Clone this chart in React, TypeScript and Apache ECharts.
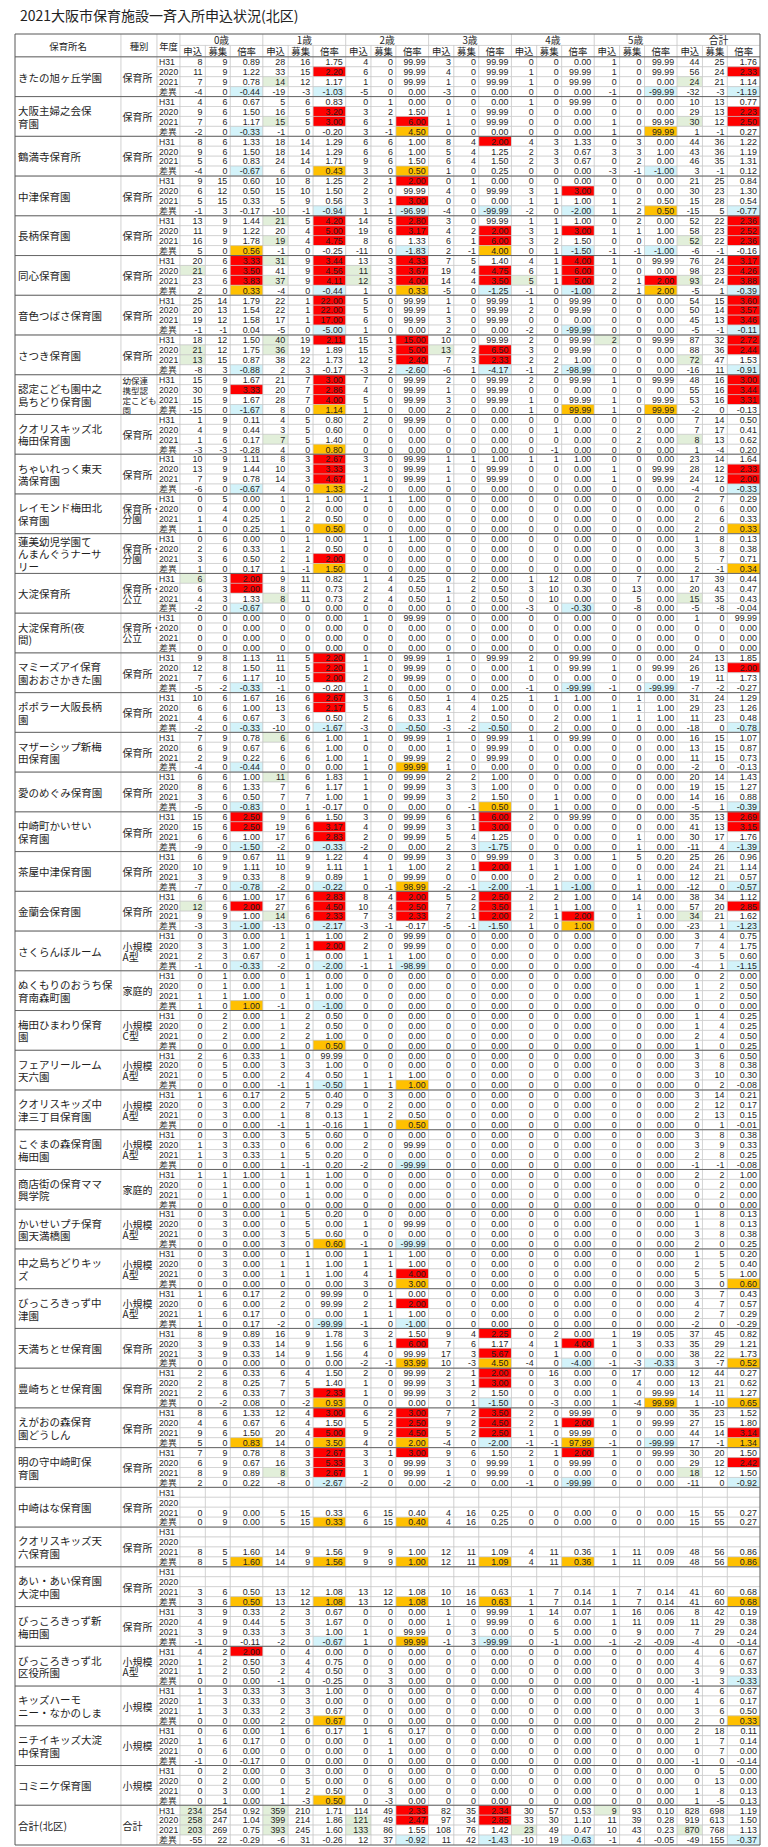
import React, { useEffect, useRef } from "react";
import * as echarts from "echarts";

const TITLE = "2021大阪市保育施設一斉入所申込状況(北区)";
const fixedHeaders = ["保育所名", "種別", "年度"];
const ageLabels = ["0歳", "1歳", "2歳", "3歳", "4歳", "5歳", "合計"];
const subLabels = ["申込", "募集", "倍率"];
const yearLabels = ["H31", "2020", "2021", "差異"];

const facilityNames = [
  "きたの旭ヶ丘学園",
  "大阪主婦之会保\n育園",
  "鶴満寺保育所",
  "中津保育園",
  "長柄保育園",
  "同心保育園",
  "音色つばさ保育園",
  "さつき保育園",
  "認定こども園中之\n島ちどり保育園",
  "クオリスキッズ北\n梅田保育園",
  "ちゃいれっく東天\n満保育園",
  "レイモンド梅田北\n保育園",
  "蓮美幼児学園て\nんまんぐうナーサ\nリー",
  "大淀保育所",
  "大淀保育所(夜\n間)",
  "マミーズアイ保育\n園おおさかきた園",
  "ポポラー大阪長柄\n園",
  "マザーシップ新梅\n田保育園",
  "愛のめぐみ保育園",
  "中崎町かいせい\n保育園",
  "茶屋中津保育園",
  "金蘭会保育園",
  "さくらんぼルーム",
  "ぬくもりのおうち保\n育南森町園",
  "梅田ひまわり保育\n園",
  "フェアリールーム\n天六園",
  "クオリスキッズ中\n津三丁目保育園",
  "こぐまの森保育園\n梅田園",
  "商店街の保育ママ\n興学院",
  "かいせいプチ保育\n園天満橋園",
  "中之島ちどりキッ\nズ",
  "びっころきっず中\n津園",
  "天満ちとせ保育園",
  "豊崎ちとせ保育園",
  "えがおの森保育\n園どうしん",
  "明の守中崎町保\n育園",
  "中崎はな保育園",
  "クオリスキッズ天\n六保育園",
  "あい・あい保育園\n大淀中園",
  "びっころきっず新\n梅田園",
  "びっころきっず北\n区役所園",
  "キッズハーモ\nニー・なかのしま",
  "ニチイキッズ大淀\n中保育園",
  "コミニケ保育園",
  "合計(北区)",
];

const facilityTypes = [
  "保育所", "保育所", "保育所", "保育所", "保育所", "保育所", "保育所", "保育所",
  "幼保連\n携型認\n定こども\n園",
  "保育所", "保育所",
  "保育所・\n分園", "保育所・\n分園",
  "保育所・\n公立", "保育所・\n公立",
  "保育所", "保育所", "保育所", "保育所", "保育所", "保育所", "保育所",
  "小規模\nA型", "家庭的", "小規模\nC型", "小規模\nA型", "小規模\nA型", "小規模\nA型",
  "家庭的", "小規模\nA型", "小規模\nA型", "小規模\nA型",
  "保育所", "保育所", "保育所", "保育所", "保育所", "保育所", "保育所", "保育所",
  "小規模\nA型", "小規模", "小規模", "小規模", "合計",
];

// 21 values per row: (申込 募集 倍率) x (0歳..5歳, 合計)
const rowValues = [
  // きたの旭ヶ丘学園
  "8 9 0.89 28 16 1.75 4 0 99.99 3 0 99.99 0 0 0.00 1 0 99.99 44 25 1.76",
  "11 9 1.22 33 15 2.20 6 0 99.99 4 0 99.99 1 0 99.99 1 0 99.99 56 24 2.33",
  "7 9 0.78 14 12 1.17 1 0 99.99 1 0 99.99 1 0 99.99 0 0 0.00 24 21 1.14",
  "-4 0 -0.44 -19 -3 -1.03 -5 0 0.00 -3 0 0.00 0 0 0.00 -1 0 -99.99 -32 -3 -1.19",
  // 大阪主婦之会保育園
  "4 6 0.67 5 6 0.83 0 1 0.00 0 0 0.00 1 0 99.99 0 0 0.00 10 13 0.77",
  "9 6 1.50 16 5 3.20 3 2 1.50 1 0 99.99 0 0 0.00 0 0 0.00 29 13 2.23",
  "7 6 1.17 15 5 3.00 6 1 6.00 1 0 99.99 0 0 0.00 1 0 99.99 30 12 2.50",
  "-2 0 -0.33 -1 0 -0.20 3 -1 4.50 0 0 0.00 0 0 0.00 1 0 99.99 1 -1 0.27",
  // 鶴満寺保育所
  "8 6 1.33 18 14 1.29 6 6 1.00 8 4 2.00 4 3 1.33 0 3 0.00 44 36 1.22",
  "9 6 1.50 18 14 1.29 6 6 1.00 5 4 1.25 2 3 0.67 3 3 1.00 43 36 1.19",
  "5 6 0.83 24 14 1.71 9 6 1.50 6 4 1.50 2 3 0.67 0 2 0.00 46 35 1.31",
  "-4 0 -0.67 6 0 0.43 3 0 0.50 1 0 0.25 0 0 0.00 -3 -1 -1.00 3 -1 0.12",
  // 中津保育園
  "9 15 0.60 10 8 1.25 2 1 2.00 0 1 0.00 0 0 0.00 0 0 0.00 21 25 0.84",
  "6 12 0.50 15 10 1.50 2 0 99.99 4 0 99.99 3 1 3.00 0 0 0.00 30 23 1.30",
  "5 15 0.33 5 9 0.56 3 1 3.00 0 0 0.00 1 1 1.00 1 2 0.50 15 28 0.54",
  "-1 3 -0.17 -10 -1 -0.94 1 1 -96.99 -4 0 -99.99 -2 0 -2.00 1 2 0.50 -15 5 -0.77",
  // 長柄保育園
  "13 9 1.44 21 5 4.20 14 5 2.80 3 0 99.99 1 1 1.00 0 2 0.00 52 22 2.36",
  "11 9 1.22 20 4 5.00 19 6 3.17 4 2 2.00 3 1 3.00 1 1 1.00 58 23 2.52",
  "16 9 1.78 19 4 4.75 8 6 1.33 6 1 6.00 3 2 1.50 0 0 0.00 52 22 2.36",
  "5 0 0.56 -1 0 -0.25 -11 0 -1.83 2 -1 4.00 0 1 -1.50 -1 -1 -1.00 -6 -1 -0.16",
  // 同心保育園
  "20 6 3.33 31 9 3.44 13 3 4.33 7 5 1.40 4 1 4.00 1 0 99.99 76 24 3.17",
  "21 6 3.50 41 9 4.56 11 3 3.67 19 4 4.75 6 1 6.00 0 0 0.00 98 23 4.26",
  "23 6 3.83 37 9 4.11 12 3 4.00 14 4 3.50 5 1 5.00 2 1 2.00 93 24 3.88",
  "2 0 0.33 -4 0 -0.44 1 0 0.33 -5 0 -1.25 -1 0 -1.00 2 1 2.00 -5 1 -0.39",
  // 音色つばさ保育園
  "25 14 1.79 22 1 22.00 5 0 99.99 1 0 99.99 1 0 99.99 0 0 0.00 54 15 3.60",
  "20 13 1.54 22 1 22.00 5 0 99.99 1 0 99.99 2 0 99.99 0 0 0.00 50 14 3.57",
  "19 12 1.58 17 1 17.00 6 0 99.99 3 0 99.99 0 0 0.00 0 0 0.00 45 13 3.46",
  "-1 -1 0.04 -5 0 -5.00 1 0 0.00 2 0 0.00 -2 0 -99.99 0 0 0.00 -5 -1 -0.11",
  // さつき保育園
  "18 12 1.50 40 19 2.11 15 1 15.00 10 0 99.99 2 0 99.99 2 0 99.99 87 32 2.72",
  "21 12 1.75 36 19 1.89 15 3 5.00 13 2 6.50 3 0 99.99 0 0 0.00 88 36 2.44",
  "13 15 0.87 38 22 1.73 12 5 2.40 7 3 2.33 2 2 1.00 0 0 0.00 72 47 1.53",
  "-8 3 -0.88 2 3 -0.17 -3 2 -2.60 -6 1 -4.17 -1 2 -98.99 0 0 0.00 -16 11 -0.91",
  // 認定こども園中之島ちどり保育園
  "15 9 1.67 21 7 3.00 7 0 99.99 2 0 99.99 2 0 99.99 1 0 99.99 48 16 3.00",
  "30 9 3.33 20 7 2.86 4 0 99.99 1 0 99.99 0 0 0.00 0 0 0.00 55 16 3.44",
  "15 9 1.67 28 7 4.00 5 0 99.99 3 0 99.99 1 0 99.99 1 0 99.99 53 16 3.31",
  "-15 0 -1.67 8 0 1.14 1 0 0.00 2 0 0.00 1 0 99.99 1 0 99.99 -2 0 -0.13",
  // クオリスキッズ北梅田保育園
  "1 9 0.11 4 5 0.80 2 0 99.99 0 0 0.00 0 0 0.00 0 0 0.00 7 14 0.50",
  "4 9 0.44 3 5 0.60 0 0 0.00 0 0 0.00 0 1 0.00 0 2 0.00 7 17 0.41",
  "1 6 0.17 7 5 1.40 0 0 0.00 0 0 0.00 0 0 0.00 0 2 0.00 8 13 0.62",
  "-3 -3 -0.28 4 0 0.80 0 0 0.00 0 0 0.00 0 -1 0.00 0 0 0.00 1 -4 0.20",
  // ちゃいれっく東天満保育園
  "10 9 1.11 8 3 2.67 3 0 99.99 1 1 1.00 1 1 1.00 0 0 0.00 23 14 1.64",
  "13 9 1.44 10 3 3.33 3 0 99.99 1 0 99.99 0 0 0.00 1 0 99.99 28 12 2.33",
  "7 9 0.78 14 3 4.67 1 0 99.99 1 0 99.99 0 0 0.00 1 0 99.99 24 12 2.00",
  "-6 0 -0.67 4 0 1.33 -2 0 0.00 0 0 0.00 0 0 0.00 0 0 0.00 -4 0 -0.33",
  // レイモンド梅田北保育園
  "0 5 0.00 1 1 1.00 1 1 1.00 0 0 0.00 0 0 0.00 0 0 0.00 2 7 0.29",
  "0 4 0.00 0 2 0.00 0 0 0.00 0 0 0.00 0 0 0.00 0 0 0.00 0 6 0.00",
  "1 4 0.25 1 2 0.50 0 0 0.00 0 0 0.00 0 0 0.00 0 0 0.00 2 6 0.33",
  "1 0 0.25 1 0 0.50 0 0 0.00 0 0 0.00 0 0 0.00 0 0 0.00 2 0 0.33",
  // 蓮美幼児学園てんまんぐうナーサリー
  "0 6 0.00 0 1 0.00 1 1 1.00 0 0 0.00 0 0 0.00 0 0 0.00 1 8 0.13",
  "2 6 0.33 1 2 0.50 0 0 0.00 0 0 0.00 0 0 0.00 0 0 0.00 3 8 0.38",
  "3 6 0.50 2 1 2.00 0 0 0.00 0 0 0.00 0 0 0.00 0 0 0.00 5 7 0.71",
  "1 0 0.17 1 -1 1.50 0 0 0.00 0 0 0.00 0 0 0.00 0 0 0.00 2 -1 0.34",
  // 大淀保育所
  "6 3 2.00 9 11 0.82 1 4 0.25 0 2 0.00 1 12 0.08 0 7 0.00 17 39 0.44",
  "6 3 2.00 8 11 0.73 2 4 0.50 1 2 0.50 3 10 0.30 0 13 0.00 20 43 0.47",
  "4 3 1.33 8 11 0.73 2 4 0.50 1 2 0.50 0 10 0.00 0 5 0.00 15 35 0.43",
  "-2 0 -0.67 0 0 0.00 0 0 0.00 0 0 0.00 -3 0 -0.30 0 -8 0.00 -5 -8 -0.04",
  // 大淀保育所(夜間)
  "0 0 0.00 0 0 0.00 1 0 99.99 0 0 0.00 0 0 0.00 0 0 0.00 1 0 99.99",
  "0 0 0.00 0 0 0.00 0 0 0.00 0 0 0.00 0 0 0.00 0 0 0.00 0 0 0.00",
  "0 0 0.00 0 0 0.00 0 0 0.00 0 0 0.00 0 0 0.00 0 0 0.00 0 0 0.00",
  "0 0 0.00 0 0 0.00 0 0 0.00 0 0 0.00 0 0 0.00 0 0 0.00 0 0 0.00",
  // マミーズアイ保育園おおさかきた園
  "9 8 1.13 11 5 2.20 1 0 99.99 1 0 99.99 2 0 99.99 0 0 0.00 24 13 1.85",
  "12 8 1.50 11 5 2.20 1 0 99.99 0 0 0.00 1 0 99.99 1 0 99.99 26 13 2.00",
  "7 6 1.17 10 5 2.00 2 0 99.99 0 0 0.00 0 0 0.00 0 0 0.00 19 11 1.73",
  "-5 -2 -0.33 -1 0 -0.20 1 0 0.00 0 0 0.00 -1 0 -99.99 -1 0 -99.99 -7 -2 -0.27",
  // ポポラー大阪長柄園
  "10 6 1.67 16 6 2.67 3 6 0.50 1 4 0.25 1 1 1.00 0 1 0.00 31 24 1.29",
  "6 6 1.00 13 6 2.17 5 6 0.83 4 4 1.00 0 0 0.00 1 1 1.00 29 23 1.26",
  "4 6 0.67 3 6 0.50 2 6 0.33 1 2 0.50 0 2 0.00 1 1 1.00 11 23 0.48",
  "-2 0 -0.33 -10 0 -1.67 -3 0 -0.50 -3 -2 -0.50 0 2 0.00 0 0 0.00 -18 0 -0.78",
  // マザーシップ新梅田保育園
  "7 9 0.78 6 6 1.00 1 0 99.99 1 0 99.99 1 0 99.99 0 0 0.00 16 15 1.07",
  "6 9 0.67 6 6 1.00 0 0 0.00 1 0 99.99 0 0 0.00 0 0 0.00 13 15 0.87",
  "2 9 0.22 6 6 1.00 1 0 99.99 2 0 99.99 0 0 0.00 0 0 0.00 11 15 0.73",
  "-4 0 -0.44 0 0 0.00 1 0 99.99 1 0 0.00 0 0 0.00 0 0 0.00 -2 0 -0.13",
  // 愛のめぐみ保育園
  "6 6 1.00 11 6 1.83 1 0 99.99 2 2 1.00 0 0 0.00 0 0 0.00 20 14 1.43",
  "8 6 1.33 7 6 1.17 1 0 99.99 3 3 1.00 0 0 0.00 0 0 0.00 19 15 1.27",
  "3 6 0.50 7 7 1.00 1 0 99.99 3 2 1.50 0 1 0.00 0 0 0.00 14 16 0.88",
  "-5 0 -0.83 0 1 -0.17 0 0 0.00 0 -1 0.50 0 1 0.00 0 0 0.00 -5 1 -0.39",
  // 中崎町かいせい保育園
  "15 6 2.50 9 6 1.50 3 0 99.99 6 1 6.00 2 0 99.99 0 0 0.00 35 13 2.69",
  "15 6 2.50 19 6 3.17 4 0 99.99 3 1 3.00 0 0 0.00 0 0 0.00 41 13 3.15",
  "6 6 1.00 17 6 2.83 2 0 99.99 5 4 1.25 0 0 0.00 0 1 0.00 30 17 1.76",
  "-9 0 -1.50 -2 0 -0.33 -2 0 0.00 2 3 -1.75 0 0 0.00 0 1 0.00 -11 4 -1.39",
  // 茶屋中津保育園
  "6 9 0.67 11 9 1.22 4 0 99.99 3 0 99.99 0 3 0.00 1 5 0.20 25 26 0.96",
  "10 9 1.11 10 9 1.11 1 1 1.00 2 1 2.00 1 1 1.00 0 0 0.00 24 21 1.14",
  "3 9 0.33 8 9 0.89 1 0 99.99 0 0 0.00 0 2 0.00 0 1 0.00 12 21 0.57",
  "-7 0 -0.78 -2 0 -0.22 0 -1 98.99 -2 -1 -2.00 -1 1 -1.00 0 1 0.00 -12 0 -0.57",
  // 金蘭会保育園
  "6 6 1.00 17 6 2.83 8 4 2.00 5 2 2.50 2 2 1.00 0 14 0.00 38 34 1.12",
  "12 6 2.00 27 6 4.50 10 4 2.50 7 2 3.50 1 1 1.00 0 1 0.00 57 20 2.85",
  "9 9 1.00 14 6 2.33 7 3 2.33 2 1 2.00 2 1 2.00 0 1 0.00 34 21 1.62",
  "-3 3 -1.00 -13 0 -2.17 -3 -1 -0.17 -5 -1 -1.50 1 0 1.00 0 0 0.00 -23 1 -1.23",
  // さくらんぼルーム
  "0 3 0.00 1 1 1.00 2 0 99.99 0 0 0.00 0 0 0.00 0 0 0.00 3 4 0.75",
  "3 3 1.00 2 1 2.00 2 0 99.99 0 0 0.00 0 0 0.00 0 0 0.00 7 4 1.75",
  "2 3 0.67 0 1 0.00 1 1 1.00 0 0 0.00 0 0 0.00 0 0 0.00 3 5 0.60",
  "-1 0 -0.33 -2 0 -2.00 -1 1 -98.99 0 0 0.00 0 0 0.00 0 0 0.00 -4 1 -1.15",
  // ぬくもりのおうち保育南森町園
  "0 1 0.00 0 1 0.00 0 0 0.00 0 0 0.00 0 0 0.00 0 0 0.00 0 2 0.00",
  "0 1 0.00 1 1 1.00 0 0 0.00 0 0 0.00 0 0 0.00 0 0 0.00 1 2 0.50",
  "1 1 1.00 0 1 0.00 0 0 0.00 0 0 0.00 0 0 0.00 0 0 0.00 1 2 0.50",
  "1 0 1.00 -1 0 -1.00 0 0 0.00 0 0 0.00 0 0 0.00 0 0 0.00 0 0 0.00",
  // 梅田ひまわり保育園
  "0 2 0.00 1 2 0.50 0 0 0.00 0 0 0.00 0 0 0.00 0 0 0.00 1 4 0.25",
  "0 2 0.00 1 2 0.50 0 0 0.00 0 0 0.00 0 0 0.00 0 0 0.00 1 4 0.25",
  "0 2 0.00 2 2 1.00 0 0 0.00 0 0 0.00 0 0 0.00 0 0 0.00 2 4 0.50",
  "0 0 0.00 1 0 0.50 0 0 0.00 0 0 0.00 0 0 0.00 0 0 0.00 1 0 0.25",
  // フェアリールーム天六園
  "2 6 0.33 1 0 99.99 0 0 0.00 0 0 0.00 0 0 0.00 0 0 0.00 3 6 0.50",
  "0 5 0.00 3 3 1.00 0 0 0.00 0 0 0.00 0 0 0.00 0 0 0.00 3 8 0.38",
  "0 5 0.00 2 4 0.50 1 1 1.00 0 0 0.00 0 0 0.00 0 0 0.00 3 10 0.30",
  "0 0 0.00 -1 1 -0.50 1 1 1.00 0 0 0.00 0 0 0.00 0 0 0.00 0 2 -0.08",
  // クオリスキッズ中津三丁目保育園
  "1 6 0.17 2 5 0.40 0 3 0.00 0 0 0.00 0 0 0.00 0 0 0.00 3 14 0.21",
  "0 3 0.00 2 7 0.29 0 2 0.00 0 0 0.00 0 0 0.00 0 0 0.00 2 12 0.17",
  "0 3 0.00 1 8 0.13 1 2 0.50 0 0 0.00 0 0 0.00 0 0 0.00 2 13 0.15",
  "0 0 0.00 -1 1 -0.16 1 0 0.50 0 0 0.00 0 0 0.00 0 0 0.00 0 1 -0.01",
  // こぐまの森保育園梅田園
  "0 3 0.00 3 5 0.60 0 0 0.00 0 0 0.00 0 0 0.00 0 0 0.00 3 8 0.38",
  "1 3 0.33 0 6 0.00 2 0 99.99 0 0 0.00 0 0 0.00 0 0 0.00 3 9 0.33",
  "1 3 0.33 1 5 0.20 0 0 0.00 0 0 0.00 0 0 0.00 0 0 0.00 2 8 0.25",
  "0 0 0.00 1 -1 0.20 -2 0 -99.99 0 0 0.00 0 0 0.00 0 0 0.00 -1 -1 -0.08",
  // 商店街の保育ママ興学院
  "1 1 1.00 1 1 1.00 0 0 0.00 0 0 0.00 0 0 0.00 0 0 0.00 2 2 1.00",
  "0 1 0.00 0 1 0.00 0 0 0.00 0 0 0.00 0 0 0.00 0 0 0.00 0 2 0.00",
  "0 1 0.00 0 1 0.00 0 0 0.00 0 0 0.00 0 0 0.00 0 0 0.00 0 2 0.00",
  "0 0 0.00 0 0 0.00 0 0 0.00 0 0 0.00 0 0 0.00 0 0 0.00 0 0 0.00",
  // かいせいプチ保育園天満橋園
  "0 3 0.00 1 5 0.20 0 0 0.00 0 0 0.00 0 0 0.00 0 0 0.00 1 8 0.13",
  "0 3 0.00 0 5 0.00 1 0 99.99 0 0 0.00 0 0 0.00 0 0 0.00 1 8 0.13",
  "0 3 0.00 3 5 0.60 0 0 0.00 0 0 0.00 0 0 0.00 0 0 0.00 3 8 0.38",
  "0 0 0.00 3 0 0.60 -1 0 -99.99 0 0 0.00 0 0 0.00 0 0 0.00 2 0 0.25",
  // 中之島ちどりキッズ
  "0 3 0.00 0 1 0.00 1 1 1.00 0 0 0.00 0 0 0.00 0 0 0.00 1 5 0.20",
  "0 3 0.00 1 1 1.00 1 1 1.00 0 0 0.00 0 0 0.00 0 0 0.00 2 5 0.40",
  "0 3 0.00 1 1 1.00 4 1 4.00 0 0 0.00 0 0 0.00 0 0 0.00 5 5 1.00",
  "0 0 0.00 0 0 0.00 3 0 3.00 0 0 0.00 0 0 0.00 0 0 0.00 3 0 0.60",
  // びっころきっず中津園
  "1 6 0.17 2 0 99.99 0 1 0.00 0 0 0.00 0 0 0.00 0 0 0.00 3 7 0.43",
  "0 6 0.00 2 0 99.99 2 1 2.00 0 0 0.00 0 0 0.00 0 0 0.00 4 7 0.57",
  "1 6 0.17 0 0 0.00 1 1 1.00 0 0 0.00 0 0 0.00 0 0 0.00 2 7 0.29",
  "1 0 0.17 -2 0 -99.99 -1 0 -1.00 0 0 0.00 0 0 0.00 0 0 0.00 -2 0 -0.29",
  // 天満ちとせ保育園
  "8 9 0.89 16 9 1.78 3 2 1.50 9 4 2.25 0 2 0.00 1 19 0.05 37 45 0.82",
  "3 9 0.33 14 9 1.56 6 1 6.00 7 6 1.17 4 1 4.00 1 3 0.33 35 29 1.21",
  "3 9 0.33 14 9 1.56 4 0 99.99 17 3 5.67 0 1 0.00 0 0 0.00 38 22 1.73",
  "0 0 0.00 0 0 0.00 -2 -1 93.99 10 -3 4.50 -4 0 -4.00 -1 -3 -0.33 3 -7 0.52",
  // 豊崎ちとせ保育園
  "2 6 0.33 6 4 1.50 2 0 99.99 2 1 2.00 0 16 0.00 0 17 0.00 12 44 0.27",
  "2 8 0.25 7 5 1.40 1 0 99.99 3 1 3.00 0 3 0.00 0 4 0.00 13 21 0.62",
  "2 6 0.33 7 3 2.33 1 0 99.99 3 2 1.50 0 0 0.00 1 0 99.99 14 11 1.27",
  "0 -2 0.08 0 -2 0.93 0 0 0.00 0 1 -1.50 0 -3 0.00 1 -4 99.99 1 -10 0.65",
  // えがおの森保育園どうしん
  "8 6 1.33 12 4 3.00 6 2 3.00 7 2 3.50 2 0 99.99 0 9 0.00 35 23 1.52",
  "4 6 0.67 6 4 1.50 5 2 2.50 9 2 4.50 2 1 2.00 1 0 99.99 27 15 1.80",
  "9 6 1.50 20 4 5.00 9 2 4.50 5 2 2.50 1 0 99.99 0 0 0.00 44 14 3.14",
  "5 0 0.83 14 0 3.50 4 0 2.00 -4 0 -2.00 -1 -1 97.99 -1 0 -99.99 17 -1 1.34",
  // 明の守中崎町保育園
  "7 9 0.78 8 3 2.67 3 1 3.00 9 6 1.50 2 1 2.00 1 0 99.99 30 20 1.50",
  "6 9 0.67 16 3 5.33 3 0 99.99 3 0 99.99 1 0 99.99 0 0 0.00 29 12 2.42",
  "8 9 0.89 8 3 2.67 1 0 99.99 1 0 99.99 0 0 0.00 0 0 0.00 18 12 1.50",
  "2 0 0.22 -8 0 -2.67 -2 0 0.00 -2 0 0.00 -1 0 -99.99 0 0 0.00 -11 0 -0.92",
  // 中崎はな保育園
  "",
  "",
  "0 9 0.00 5 15 0.33 6 15 0.40 4 16 0.25 0 0 0.00 0 0 0.00 15 55 0.27",
  "0 9 0.00 5 15 0.33 6 15 0.40 4 16 0.25 0 0 0.00 0 0 0.00 15 55 0.27",
  // クオリスキッズ天六保育園
  "",
  "",
  "8 5 1.60 14 9 1.56 9 9 1.00 12 11 1.09 4 11 0.36 1 11 0.09 48 56 0.86",
  "8 5 1.60 14 9 1.56 9 9 1.00 12 11 1.09 4 11 0.36 1 11 0.09 48 56 0.86",
  // あい・あい保育園大淀中園
  "",
  "",
  "3 6 0.50 13 12 1.08 13 12 1.08 10 16 0.63 1 7 0.14 1 7 0.14 41 60 0.68",
  "3 6 0.50 13 12 1.08 13 12 1.08 10 16 0.63 1 7 0.14 1 7 0.14 41 60 0.68",
  // びっころきっず新梅田園
  "3 9 0.33 2 3 0.67 0 0 0.00 1 0 99.99 1 14 0.07 1 16 0.06 8 42 0.19",
  "4 9 0.44 5 3 1.67 0 0 0.00 1 0 99.99 0 6 0.00 1 11 0.09 11 29 0.38",
  "3 9 0.33 3 3 1.00 1 0 99.99 0 3 0.00 0 5 0.00 0 9 0.00 7 29 0.24",
  "-1 0 -0.11 -2 0 -0.67 1 0 99.99 -1 3 -99.99 0 -1 0.00 -1 -2 -0.09 -4 0 -0.14",
  // びっころきっず北区役所園
  "4 2 2.00 0 4 0.00 0 0 0.00 0 0 0.00 0 0 0.00 0 0 0.00 4 6 0.67",
  "1 2 0.50 3 4 0.75 0 0 0.00 0 0 0.00 0 0 0.00 0 0 0.00 4 6 0.67",
  "1 2 0.50 2 4 0.50 0 3 0.00 0 0 0.00 0 0 0.00 0 0 0.00 3 9 0.33",
  "0 0 0.00 -1 0 -0.25 0 3 0.00 0 0 0.00 0 0 0.00 0 0 0.00 -1 3 -0.33",
  // キッズハーモニー・なかのしま
  "1 3 0.33 3 3 1.00 0 0 0.00 0 0 0.00 0 0 0.00 0 0 0.00 4 6 0.67",
  "1 3 0.33 0 3 0.00 0 0 0.00 0 0 0.00 0 0 0.00 0 0 0.00 1 6 0.17",
  "1 3 0.33 2 3 0.67 0 0 0.00 0 0 0.00 0 0 0.00 0 0 0.00 3 6 0.50",
  "0 0 0.00 2 0 0.67 0 0 0.00 0 0 0.00 0 0 0.00 0 0 0.00 2 0 0.33",
  // ニチイキッズ大淀中保育園
  "0 6 0.00 1 6 0.17 1 6 0.17 0 0 0.00 0 0 0.00 0 0 0.00 2 18 0.11",
  "1 6 0.17 0 0 0.00 0 1 0.00 0 0 0.00 0 0 0.00 0 0 0.00 1 7 0.14",
  "0 6 0.00 0 0 0.00 0 1 0.00 0 0 0.00 0 0 0.00 0 0 0.00 0 7 0.00",
  "-1 0 -0.17 0 0 0.00 0 0 0.00 0 0 0.00 0 0 0.00 0 0 0.00 -1 0 -0.14",
  // コミニケ保育園
  "0 2 0.00 0 3 0.00 0 0 0.00 0 0 0.00 0 0 0.00 0 0 0.00 0 5 0.00",
  "0 2 0.00 0 5 0.00 0 6 0.00 0 0 0.00 0 0 0.00 0 0 0.00 0 13 0.00",
  "0 3 0.00 1 2 0.50 0 3 0.00 0 0 0.00 0 0 0.00 0 0 0.00 1 8 0.13",
  "0 1 0.00 1 -3 0.50 0 -3 0.00 0 0 0.00 0 0 0.00 0 0 0.00 1 -5 0.13",
  // 合計(北区)
  "234 254 0.92 359 210 1.71 114 49 2.33 82 35 2.34 30 57 0.53 9 93 0.10 828 698 1.19",
  "258 247 1.04 399 214 1.86 121 49 2.47 97 34 2.85 33 30 1.10 11 39 0.28 919 613 1.50",
  "203 269 0.75 393 245 1.60 133 86 1.55 108 76 1.42 23 49 0.47 10 43 0.23 870 768 1.13",
  "-55 22 -0.29 -6 31 -0.26 12 37 -0.92 11 42 -1.43 -10 19 -0.63 -1 4 -0.05 -49 155 -0.37",
];

// highlight flags per row: "<column><kind>" r=red, o=orange, b=blue, g=green
const rowFlags = [
  "", "5r 20r", "3g 18g", "2b 5b 17b 20b",
  "", "5r 20r", "3g 5r 8r 18g 20r", "2b 8o 17o",
  "11r", "", "", "2b 5o 8o 17b",
  "8r", "14r", "8r", "5b 8b 11b 14b 17o 20b",
  "3g 5r 8r 20r", "5r 8r 11r 14r 20r", "3g 5r 11r 18g 20r", "2o 8b 11o 14b 17b",
  "2r 3g 5r 8r 14r 20r", "0g 2r 5r 6g 8r 11r 14r 20r", "2r 3g 5r 6g 8r 11r 12g 14r 17r 18g 20r", "2o 5b 8o 11b 14b 17o 20b",
  "5r 20r", "5r 20r", "5r 20r", "5b 14b 20b",
  "3g 5r 8r 15g 20r", "0g 3g 8r 9g 11r 20r", "0g 8r 11r 18g", "2b 8b 11b 14b 20b",
  "5r 20r", "2r 5r 20r", "5r 20r", "2b 5o 14o 17o",
  "", "", "3g 18g", "5o",
  "5r", "5r 20r", "5r 20r", "2b 5o 20b",
  "", "", "", "5o 20o",
  "", "", "5r", "5o 20o",
  "0g 2r", "2r", "3g 18g", "2b 14b",
  "", "", "", "",
  "5r", "5r 20r", "5r", "2b 14b 17b",
  "5r", "5r", "", "2b 5b 8b 11b 20b",
  "3g", "", "", "2b 8o",
  "3g", "", "", "2b 11o 20b",
  "2r 11r 20r", "2r 5r 11r 20r", "5r", "2b 5b 11b 20b",
  "", "11r", "", "2b 5b 8o 11b 14b 20b",
  "5r 8r 11r", "0g 2r 5r 8r 11r 20r", "3g 5r 8r 11r 14r 18g", "2b 5b 11b 14o 20b",
  "", "5r", "", "2b 5b 8b 20b",
  "", "", "", "2o 5b",
  "", "", "", "5o",
  "", "", "", "5b 8o",
  "", "", "", "8o",
  "", "", "", "8b",
  "", "", "", "",
  "", "", "", "5o 8b",
  "", "", "8r", "8o 20o",
  "", "8r", "", "5b 8b",
  "11r", "8r 14r", "11r", "8o 11o 14b 17b 20o",
  "11r", "11r", "5r", "5o 11b 17o 20o",
  "5r 8r 11r", "8r 11r 14r", "5r 8r 11r 20r", "2o 5o 8o 11b 14o 17b 20o",
  "5r 8r 14r", "5r 20r", "3g 5r 18g", "5b 14b 20b",
  "", "", "", "5o 8o",
  "", "", "", "2o 5o 8o 11o 14o 20o",
  "", "", "", "2o 5o 8o 11o 20o",
  "", "", "", "5b 8o 11b",
  "2r", "", "", "20b",
  "", "", "", "5o 20o",
  "", "", "", "",
  "", "", "", "5o",
  "0g 3g 8r 11r 15g", "0g 3g 6g 8r 11r", "0g 3g 6g 12g 18g", "8b 11b 14b 20b",
];

// ---- layout / style constants (column widths in px) ----
const AGE_COLS = [25.3, 24.9, 32.6];
const COL_UNITS = [106, 36, 23, ...AGE_COLS, ...AGE_COLS, ...AGE_COLS, ...AGE_COLS, ...AGE_COLS, ...AGE_COLS, ...AGE_COLS];
const FLAG_COLORS: Record<string, string> = { r: "#FF0000", o: "#FFC000", b: "#D3F3FA", g: "#E2EFDA" };
const JP_FONT = '"Noto Sans CJK JP", "Noto Sans", sans-serif';
const NUM_FONT = '"Liberation Sans Narrow", "Arial Narrow", "Liberation Sans", sans-serif';
const GRID = { left: 15, right: 8, top: 34, bottom: 2 };

const HEADER_LINES = [0, 1.15, 2.3]; // header row boundaries in row units
const DATA_TOP = HEADER_LINES[2];
const ROWS_PER = yearLabels.length;
const TOTAL_ROWS = DATA_TOP + facilityNames.length * ROWS_PER;
const colEdges: number[] = COL_UNITS.reduce((acc: number[], w) => { acc.push(acc[acc.length - 1] + w); return acc; }, [0]);
const TOTAL_UNITS = colEdges[colEdges.length - 1];

type Kind = "head" | "age" | "name" | "type" | "year" | "num";
type Cell = { c0: number; c1: number; r0: number; r1: number; text: string; fill: string; align: "left" | "center" | "right"; kind: Kind };

const KIND_STYLE: Record<Kind, { size: number; family: string; pad: number; lh: number }> = {
  head: { size: 9.4, family: JP_FONT, pad: 0, lh: 10.5 },
  age: { size: 9.8, family: JP_FONT, pad: 0, lh: 10.8 },
  name: { size: 10.5, family: JP_FONT, pad: 3, lh: 12.6 },
  type: { size: 10, family: JP_FONT, pad: 1.5, lh: 9.9 },
  year: { size: 8.6, family: NUM_FONT, pad: 2, lh: 9.5 },
  num: { size: 8.9, family: NUM_FONT, pad: 3, lh: 9.5 },
};

// approximate em-width of a line (middle dots count half) to keep type labels inside their column
function lineEms(s: string): number {
  let n = 0;
  for (const ch of s) n += ch === "・" ? 0.5 : ch.charCodeAt(0) < 256 ? 0.6 : 1;
  return n;
}

function buildCells(): Cell[] {
  const cells: Cell[] = [];
  fixedHeaders.forEach((t, i) => cells.push({ c0: i, c1: i + 1, r0: 0, r1: DATA_TOP, text: t, fill: "#fff", align: "center", kind: "head" }));
  ageLabels.forEach((t, a) => {
    cells.push({ c0: 3 + 3 * a, c1: 6 + 3 * a, r0: HEADER_LINES[0], r1: HEADER_LINES[1], text: t, fill: "#fff", align: "center", kind: "age" });
    subLabels.forEach((s, k) => cells.push({ c0: 3 + 3 * a + k, c1: 4 + 3 * a + k, r0: HEADER_LINES[1], r1: HEADER_LINES[2], text: s, fill: "#fff", align: "center", kind: "head" }));
  });
  facilityNames.forEach((name, g) => {
    const r = DATA_TOP + g * ROWS_PER;
    cells.push({ c0: 0, c1: 1, r0: r, r1: r + ROWS_PER, text: name, fill: "#fff", align: "left", kind: "name" });
    cells.push({ c0: 1, c1: 2, r0: r, r1: r + ROWS_PER, text: facilityTypes[g], fill: "#fff", align: "left", kind: "type" });
    yearLabels.forEach((y, k) => {
      const ri = g * ROWS_PER + k;
      const row = r + k;
      cells.push({ c0: 2, c1: 3, r0: row, r1: row + 1, text: y, fill: "#fff", align: "left", kind: "year" });
      const vals = rowValues[ri] ? rowValues[ri].split(" ") : [];
      const flags: Record<number, string> = {};
      rowFlags[ri].split(" ").filter(Boolean).forEach((f) => { flags[parseInt(f, 10)] = f.slice(-1); });
      for (let j = 0; j < 21; j++) {
        cells.push({
          c0: 3 + j, c1: 4 + j, r0: row, r1: row + 1,
          text: vals[j] ?? "",
          fill: flags[j] ? FLAG_COLORS[flags[j]] : "#fff",
          align: "right", kind: "num",
        });
      }
    });
  });
  return cells;
}

function buildRules(): number[][] {
  const rules: number[][] = [[0, 0, TOTAL_UNITS, 0]];
  for (let g = 0; g <= facilityNames.length; g++) {
    const r = DATA_TOP + g * ROWS_PER;
    rules.push([0, r, TOTAL_UNITS, r]);
  }
  rules.push([0, 0, 0, TOTAL_ROWS]);
  rules.push([TOTAL_UNITS, 0, TOTAL_UNITS, TOTAL_ROWS]);
  return rules;
}

export default function App() {
  const ref = useRef<HTMLDivElement>(null);
  useEffect(() => {
    if (!ref.current) return;
    const chart = echarts.init(ref.current, null, { renderer: "svg" });
    const cells = buildCells();
    const rules = buildRules();
    chart.setOption({
      animation: false,
      backgroundColor: "#ffffff",
      title: {
        text: TITLE,
        left: 15,
        top: 3,
        textStyle: { fontSize: 14, fontWeight: "normal", color: "#222", fontFamily: JP_FONT },
      },
      grid: { ...GRID },
      xAxis: { type: "value", min: 0, max: TOTAL_UNITS, show: false },
      yAxis: { type: "value", min: 0, max: TOTAL_ROWS, inverse: true, show: false },
      series: [
        {
          type: "custom",
          name: "cells",
          silent: true,
          clip: false,
          encode: { x: [0, 2], y: [1, 3] },
          data: cells.map((c) => [colEdges[c.c0], c.r0, colEdges[c.c1], c.r1]),
          renderItem: (params: any, api: any) => {
            const cell = cells[params.dataIndex];
            const a = api.coord([api.value(0), api.value(1)]);
            const b = api.coord([api.value(2), api.value(3)]);
            const x = a[0], y = a[1], w = b[0] - a[0], h = b[1] - a[1];
            const st = KIND_STYLE[cell.kind];
            let size = st.size;
            if (cell.kind === "type") {
              const ems = Math.max(...cell.text.split("\n").map(lineEms));
              size = Math.min(size, (w - st.pad - 0.5) / ems);
            }
            const tx = cell.align === "left" ? x + st.pad : cell.align === "right" ? x + w - st.pad : x + w / 2;
            return {
              type: "group",
              children: [
                { type: "rect", shape: { x, y, width: w, height: h }, style: { fill: cell.fill, stroke: "#C4C4C4", lineWidth: 0.6 } },
                {
                  type: "text",
                  style: {
                    x: tx, y: y + h / 2 + 0.3,
                    text: cell.text, fill: "#1e1e1e",
                    fontSize: size, fontFamily: st.family,
                    align: cell.align, verticalAlign: "middle",
                    textAlign: cell.align, textVerticalAlign: "middle",
                    lineHeight: st.lh,
                  },
                },
              ],
            };
          },
        },
        {
          type: "custom",
          name: "rules",
          silent: true,
          clip: false,
          z: 5,
          encode: { x: [0, 2], y: [1, 3] },
          data: rules,
          renderItem: (params: any, api: any) => {
            const a = api.coord([api.value(0), api.value(1)]);
            const b = api.coord([api.value(2), api.value(3)]);
            return { type: "line", shape: { x1: a[0], y1: a[1], x2: b[0], y2: b[1] }, style: { stroke: "#5a5a5a", lineWidth: 0.9 } };
          },
        },
      ],
    });
    return () => chart.dispose();
  }, []);
  return <div ref={ref} style={{ position: "absolute", left: 0, top: 0, width: 768, height: 1847 }} />;
}
